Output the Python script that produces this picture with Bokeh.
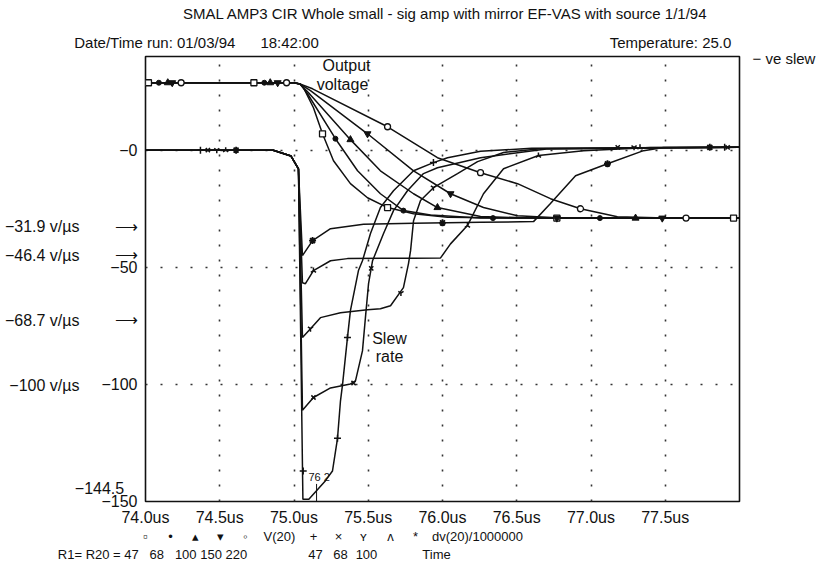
import math
from bokeh.plotting import figure
from bokeh.models import Label, FixedTicker, Range1d, LinearAxis
from bokeh.embed import file_html
from bokeh.resources import INLINE

# ---------------- data ----------------
TICKS_T = [74.0, 74.5, 75.0, 75.5, 76.0, 76.5, 77.0, 77.5]
TICK_LABELS_T = ["74.0us", "74.5us", "75.0us", "75.5us", "76.0us", "76.5us", "77.0us", "77.5us"]
GRID_T = [74.5, 75.0, 75.5, 76.0, 76.5, 77.0, 77.5]
TICKS_V = [0, -50, -100, -144.5, -150]
TICK_LABELS_V = ["\u22120", "\u221250", "\u2212100", "\u2212144.5\u00a0\u00a0\u00a0", "\u2212150"]
GRID_V = [0, -50, -100]
RESISTORS = ["47", "68", "100", "150", "220"]
SLEW_LABELS = ["\u221231.9 v/\u00b5s", "\u221246.4 v/\u00b5s", "\u221268.7 v/\u00b5s", "\u2212100 v/\u00b5s"]
TITLE = "SMAL AMP3 CIR Whole small - sig amp with mirror EF-VAS with source 1/1/94"
HEADER_LEFT = "Date/Time run: 01/03/94\u00a0\u00a0\u00a0\u00a0\u00a0\u00a018:42:00"
HEADER_RIGHT = "Temperature: 25.0"

# Output voltage V(20) for R = 47, 68, 100, 150, 220
v47_t = [74.0, 75.0, 75.04, 75.064, 75.131, 75.192, 75.266, 75.38, 75.495, 75.63, 75.805, 76.034, 76.5, 78.0]
v47_v = [28.8, 28.8, 28.3, 26.7, 18.1, 7.0, -4.5, -14.3, -20.3, -24.5, -27.1, -28.6, -29.0, -29.0]
v68_t = [74.0, 75.0, 75.04, 75.091, 75.279, 75.428, 75.582, 75.737, 75.919, 76.256, 78.0]
v68_v = [28.8, 28.8, 28.3, 24.1, 4.9, -8.8, -18.6, -25.8, -27.7, -29.0, -29.0]
v100_t = [74.0, 75.0, 75.04, 75.098, 75.38, 75.582, 75.805, 75.966, 76.256, 76.6, 78.0]
v100_v = [28.8, 28.8, 28.3, 24.5, 4.5, -8.8, -18.6, -24.5, -28.3, -29.0, -29.0]
v150_t = [74.0, 75.0, 75.04, 75.111, 75.495, 75.805, 76.054, 76.276, 76.505, 76.8, 78.0]
v150_v = [28.8, 28.8, 28.3, 25.4, 7.0, -8.8, -18.6, -24.5, -28.0, -29.0, -29.0]
v220_t = [74.0, 75.0, 75.04, 75.125, 75.63, 75.966, 76.256, 76.505, 76.727, 76.929, 77.178, 77.5, 78.0]
v220_v = [28.8, 28.8, 28.3, 26.2, 10.0, -3.2, -9.6, -14.3, -20.7, -25.0, -28.4, -29.0, -29.0]

# Slew rate dv(20)/1e6 for R = 47, 68, 100, 150, 220
dv47_t = [74.0, 74.86, 74.98, 75.03, 75.06, 75.10, 75.212, 75.259, 75.293, 75.313, 75.327, 75.36, 75.38,
          75.434, 75.461, 75.515, 75.582, 75.67, 75.805, 75.939, 76.034, 76.256, 76.6, 78.0]
dv47_v = [0, 0, -2.5, -8, -149, -149, -141.1, -137, -123, -107, -100, -80, -68.5,
          -51.4, -47.2, -35.6, -24.5, -17.3, -8.8, -5.3, -3.2, -0.5, 0.8, 1.2]
dv68_t = [74.0, 74.86, 74.98, 75.03, 75.057, 75.131, 75.246, 75.38, 75.414, 75.461, 75.481, 75.502, 75.529,
          75.603, 75.67, 75.764, 75.872, 75.966, 76.256, 76.7, 78.0]
dv68_v = [0, 0, -2.5, -8, -111, -105.6, -101.5, -99.8, -98.5, -85.7, -71.5, -57, -47.2,
          -35.6, -25.8, -17.3, -10, -7.5, -3.2, 0.5, 1.2]
dv100_t = [74.0, 74.86, 74.98, 75.03, 75.057, 75.111, 75.178, 75.313, 75.495, 75.582, 75.65, 75.737, 75.771,
           75.785, 75.805, 75.852, 75.939, 76.101, 76.236, 76.411, 76.66, 78.0]
dv100_v = [0, 0, -2.5, -8, -80, -76.2, -71.5, -69.4, -68.1, -67.7, -66.4, -58.7, -48.4,
           -42.9, -30.1, -21.5, -16.0, -10.0, -4.9, -1.0, 0.6, 1.2]
dv150_t = [74.0, 74.86, 74.98, 75.03, 75.057, 75.077, 75.131, 75.246, 75.36, 75.6, 75.8, 75.987, 76.054,
           76.168, 76.276, 76.411, 76.646, 76.949, 77.4, 78.0]
dv150_v = [0, 0, -2.5, -8, -56.6, -57.0, -51.4, -47.2, -46.3, -46.1, -46.1, -46.0, -40.0,
           -32.2, -18.6, -7.9, -2.3, -0.2, 1.1, 1.2]
dv220_t = [74.0, 74.86, 74.98, 75.03, 75.057, 75.125, 75.246, 75.468, 75.805, 76.256, 76.613, 76.727, 76.896,
           77.111, 77.354, 77.488, 78.0]
dv220_v = [0, 0, -2.5, -8, -45, -38.6, -33.5, -31.6, -31.2, -30.8, -30.5, -22.8, -10.9,
           -5.8, -0.2, 1.1, 1.2]

# marker positions on the traces
mk_v47_t = [74.02, 74.73, 75.192, 75.63, 76.77, 77.96]
mk_v47_v = [28.8, 28.8, 7.0, -24.5, -29.0, -29.0]
mk_v68_t = [74.09, 74.80, 75.279, 75.737, 76.34, 77.06]
mk_v68_v = [28.8, 28.8, 4.9, -25.8, -29.0, -29.0]
mk_v100_t = [74.15, 74.84, 75.38, 75.966, 77.3]
mk_v100_v = [28.8, 28.8, 4.5, -24.5, -29.0]
mk_v150_t = [74.18, 74.89, 75.495, 76.054, 76.77, 77.48]
mk_v150_v = [28.8, 28.8, 7.0, -18.6, -29.0, -29.0]
mk_v220_t = [74.24, 74.95, 75.63, 76.256, 76.929, 77.64]
mk_v220_v = [28.8, 28.8, 10.0, -9.6, -25.0, -29.0]
mk_dv47_t = [74.37, 75.062, 75.293, 75.36, 75.939, 77.9]
mk_dv47_v = [0, -137, -123, -80, -5.3, 1.2]
mk_dv68_t = [74.42, 75.131, 75.401, 75.52, 77.18, 77.92]
mk_dv68_v = [0, -105.6, -99.4, -50.5, 1.2, 1.2]
mk_dv100_t = [74.48, 75.111, 75.72, 75.939, 77.29]
mk_dv100_v = [0, -76.2, -61, -16.0, 1.2]
mk_dv150_t = [74.54, 75.131, 76.168, 76.646, 77.33]
mk_dv150_v = [0, -51.4, -32.2, -2.3, 1.2]
mk_dv220_t = [74.61, 75.125, 76.0, 77.111, 77.80]
mk_dv220_v = [0, -38.6, -31.0, -5.8, 1.2]

# cursor mark near the slew-rate minimum
cursor_t = [75.152, 75.152]
cursor_v = [-142.5, -150.0]

# ---------------- layout ----------------
FONT = "Liberation Sans"
INK = "#111111"
W, H = 818, 566
FL, FR, FT, FB = 145, 739, 56, 501      # frame edges in canvas pixels
X0, X1, Y0, Y1 = 74.0, 78.0, -150.0, 40.0


def X(px):
    return X0 + (px - FL) * (X1 - X0) / (FR - FL)


def Y(py):
    return Y1 - (py - FT) * (Y1 - Y0) / (FB - FT)


p = figure(width=W, height=H, output_backend="svg", toolbar_location=None, title=None,
           x_range=Range1d(X0, X1), y_range=Range1d(Y0, Y1),
           min_border_left=FL, min_border_right=W - FR,
           min_border_top=FT, min_border_bottom=H - FB)
p.background_fill_color = "white"
p.border_fill_color = "white"
p.outline_line_color = INK
p.outline_line_width = 1.6


def style_axis(ax, size="16px", standoff=8):
    ax.axis_line_color = None
    ax.major_tick_line_color = None
    ax.minor_tick_line_color = None
    ax.major_tick_out = 0
    ax.major_tick_in = 0
    ax.major_label_text_font = FONT
    ax.major_label_text_font_size = size
    ax.major_label_text_color = INK
    ax.major_label_standoff = standoff


def text_axis(place, ticks, labels, size, standoff):
    ax = LinearAxis(ticker=FixedTicker(ticks=ticks),
                    major_label_overrides={t: l for t, l in zip(ticks, labels)})
    style_axis(ax, size, standoff)
    p.add_layout(ax, place)
    return ax


# main axes
xa = p.xaxis[0]
xa.ticker = FixedTicker(ticks=TICKS_T)
xa.major_label_overrides = {t: l for t, l in zip(TICKS_T, TICK_LABELS_T)}
style_axis(xa, "16px", 7)

arrow_ticks = [Y(226), Y(254), Y(319)]
ya = p.yaxis[0]
ya.ticker = FixedTicker(ticks=TICKS_V + arrow_ticks)
ov = {t: l for t, l in zip(TICKS_V, TICK_LABELS_V)}
ov.update({t: "\u27f6" for t in arrow_ticks})
ya.major_label_overrides = ov
style_axis(ya, "16px", 8)

# slew-rate labels (outer left)
text_axis("left", [Y(226), Y(255), Y(320), Y(385)], SLEW_LABELS, "16px", -8)

# header lines (above)
text_axis("above", [X(196), X(670)], [HEADER_LEFT, HEADER_RIGHT], "15px", 6)
text_axis("above", [X(445)], [TITLE], "15px", 9)

# right note
text_axis("right", [Y(58)], ["\u2212 ve slew"], "15px", 13)

# legend rows (below)
row_b_x = [X(145), X(170), X(195), X(220), X(245), X(279), X(313), X(338), X(363), X(390), X(415), X(477)]
row_b = ["\u25ab", "\u2022", "\u25b4", "\u25be", "\u25e6", "V(20)", "+", "\u00d7", "\u028f", "\u028c", "*",
         "dv(20)/1000000"]
text_axis("below", row_b_x, row_b, "13px", 0)
row_c_x = [X(152), X(315), X(340), X(366), X(436)]
row_c = ["R1=\u00a0R20\u00a0=\u00a0" + "\u00a0\u00a0\u00a0".join(RESISTORS[:3]) + "\u00a0" + "\u00a0".join(RESISTORS[3:]),
         RESISTORS[0], RESISTORS[1], RESISTORS[2], "Time"]
text_axis("below", row_c_x, row_c, "13px", 0)

p.xgrid.ticker = FixedTicker(ticks=GRID_T)
p.ygrid.ticker = FixedTicker(ticks=GRID_V)
for g in (p.xgrid, p.ygrid):
    g.grid_line_color = "#333333"
    g.grid_line_width = 1.6
    g.grid_line_dash = "2 13"

# traces
for t, v in [(v47_t, v47_v), (v68_t, v68_v), (v100_t, v100_v), (v150_t, v150_v), (v220_t, v220_v),
             (dv47_t, dv47_v), (dv68_t, dv68_v), (dv100_t, dv100_v), (dv150_t, dv150_v), (dv220_t, dv220_v)]:
    p.line(t, v, line_color=INK, line_width=1.5)
p.line(cursor_t, cursor_v, line_color=INK, line_width=1.0)

p.scatter(mk_v47_t, mk_v47_v, marker="square", size=6, line_color=INK, fill_color="white", line_width=1.3)
p.scatter(mk_v68_t, mk_v68_v, marker="circle", size=5, line_color=INK, fill_color=INK)
p.scatter(mk_v100_t, mk_v100_v, marker="triangle", size=7, line_color=INK, fill_color=INK)
p.scatter(mk_v150_t, mk_v150_v, marker="inverted_triangle", size=7, line_color=INK, fill_color=INK)
p.scatter(mk_v220_t, mk_v220_v, marker="circle", size=6, line_color=INK, fill_color="white", line_width=1.3)
p.scatter(mk_dv47_t, mk_dv47_v, marker="cross", size=7, line_color=INK, line_width=1.5)
p.scatter(mk_dv68_t, mk_dv68_v, marker="x", size=6, line_color=INK, line_width=1.5)
p.scatter(mk_dv100_t, mk_dv100_v, marker="y", size=6, line_color=INK, line_width=1.5)
p.scatter(mk_dv150_t, mk_dv150_v, marker="y", size=6, angle=math.pi, line_color=INK, line_width=1.5)
p.scatter(mk_dv220_t, mk_dv220_v, marker="asterisk", size=7, line_color=INK, line_width=1.8)


def lab(px, py, text, size="16px", align="center"):
    p.add_layout(Label(x=X(px), y=Y(py), text=text, text_font=FONT, text_font_size=size,
                       text_align=align, text_baseline="middle", text_color=INK))


# annotations inside the plot
lab(346, 65, "Output")
lab(342, 84, "voltage")
lab(389, 338, "Slew")
lab(389, 356, "rate")
lab(308, 476, "76 2", "11px", "left")

open("out.html", "w").write(file_html(p, INLINE))
